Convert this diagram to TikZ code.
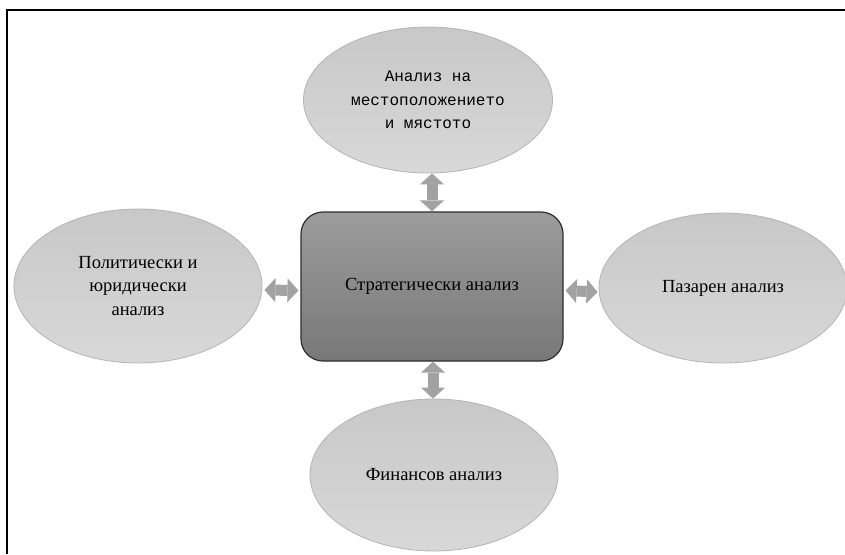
\documentclass[tikz,border=0pt]{standalone}
\usepackage{fontspec}
\setmainfont{Liberation Serif}
\newfontfamily\monofont{Liberation Mono}
\usetikzlibrary{arrows.meta,shapes.geometric}
\definecolor{ellborder}{HTML}{B4B4B4}
\definecolor{elltop}{HTML}{C8C8C8}
\definecolor{ellbot}{HTML}{D8D8D8}
\definecolor{recttop}{HTML}{9C9C9C}
\definecolor{rectbot}{HTML}{787878}
\definecolor{rectborder}{HTML}{2E2E2E}
\definecolor{arrowgray}{HTML}{A2A2A2}
\begin{document}
\begin{tikzpicture}[x=1pt,y=-1pt,
  ellnode/.style={ellipse, draw=ellborder, line width=0.8pt, top color=elltop, bottom color=ellbot,
    inner sep=0pt, align=center, font=\fontsize{18.5}{23.5}\selectfont},
  centerbox/.style={rectangle, rounded corners=22pt, draw=rectborder, line width=1.2pt,
    top color=recttop, bottom color=rectbot, minimum width=262pt, minimum height=149pt,
    inner sep=0pt, align=center, font=\fontsize{18.5}{23.5}\selectfont},
  dblarrow/.style={color=arrowgray, line width=11pt,
    arrows={Triangle[width=24pt,length=11pt,line width=0pt]-Triangle[width=24pt,length=11pt,line width=0pt]}}
]
\useasboundingbox (0,0) rectangle (845,554);
\fill[white] (0,0) rectangle (845,554);
\draw[line width=1.5pt] (845,10) -- (7,10) -- (7,554);

\node[ellnode, minimum width=249pt, minimum height=146pt, font=\monofont\fontsize{16}{23.5}\selectfont] (topell) at (428,100)
  {Анализ\ на\\ местоположението\\ и мястото};
\node[ellnode, minimum width=248pt, minimum height=154pt] (leftell) at (138,286)
  {Политически и\\ юридически\\ анализ};
\node[ellnode, minimum width=248pt, minimum height=150pt] (rightell) at (723,288)
  {Пазарен анализ};
\node[ellnode, minimum width=248pt, minimum height=152pt] (botell) at (434,475)
  {Финансов анализ};
\node[centerbox] (ctr) at (432,286.5) {Стратегически анализ};

\draw[dblarrow] ([xshift=4pt]topell.south) -- ([xshift=0pt]ctr.north);
\draw[dblarrow] ([xshift=1pt]ctr.south) -- ([xshift=-1pt]botell.north);
\draw[dblarrow] ([xshift=2pt,yshift=-4pt]leftell.east) -- ([xshift=-2pt,yshift=-4pt]ctr.west);
\draw[dblarrow] ([xshift=2pt,yshift=-4pt]ctr.east) -- ([xshift=-1pt,yshift=-4pt]rightell.west);
\end{tikzpicture}
\end{document}
